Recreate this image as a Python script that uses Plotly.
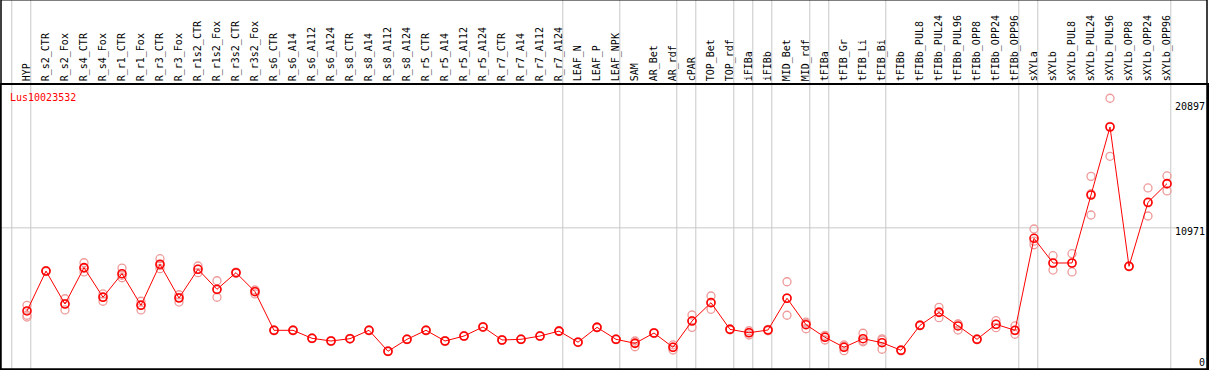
import plotly.graph_objects as go

categories = ["HYP", "R_s2_CTR", "R_s2_Fox", "R_s4_CTR", "R_s4_Fox", "R_r1_CTR", "R_r1_Fox",
              "R_r3_CTR", "R_r3_Fox", "R_r1s2_CTR", "R_r1s2_Fox", "R_r3s2_CTR", "R_r3s2_Fox",
              "R_s6_CTR", "R_s6_A14", "R_s6_A112", "R_s6_A124", "R_s8_CTR", "R_s8_A14", "R_s8_A112",
              "R_s8_A124", "R_r5_CTR", "R_r5_A14", "R_r5_A112", "R_r5_A124", "R_r7_CTR", "R_r7_A14",
              "R_r7_A112", "R_r7_A124", "LEAF_N", "LEAF_P", "LEAF_NPK", "SAM", "AR_Bet", "AR_rdf",
              "cPAR", "TOP_Bet", "TOP_rdf", "iFIBa", "iFIBb", "MID_Bet", "MID_rdf", "tFIBa",
              "tFIB_Gr", "tFIB_Li", "tFIB_Bi", "tFIBb", "tFIBb_PUL8", "tFIBb_PUL24", "tFIBb_PUL96",
              "tFIBb_OPP8", "tFIBb_OPP24", "tFIBb_OPP96", "sXYLa", "sXYLb", "sXYLb_PUL8",
              "sXYLb_PUL24", "sXYLb_PUL96", "sXYLb_OPP8", "sXYLb_OPP24", "sXYLb_OPP96"]

mean_values = [4370, 7540, 4920, 7810, 5460, 7330, 4820, 8080, 5400, 7680, 6090, 7410, 5900,
               2835, 2835, 2200, 1985, 2170, 2835, 1170, 2120, 2835, 1985, 2380, 3100,
               2065, 2120, 2380, 2770, 1890, 3070, 2120, 1800, 2620, 1485, 3570, 5030,
               2910, 2640, 2860, 5380, 3280, 2280, 1485, 2170, 1850, 1250, 3230, 4260,
               3180, 2120, 3310, 2835, 10140, 8180, 8180, 13580, 18980, 7920, 13000, 14480]

rep1 = [4820, 7500, 5340, 8200, 5720, 7780, 5140, 8520, 5660, 7940, 6770, 7350, 6035,
        2800, 2800, 2170, 1950, 2140, 2800, 1140, 2090, 2800, 1950, 2350, 3070,
        2030, 2090, 2350, 2740, 1860, 3040, 2090, 1985, 2590, 1670, 4050, 5560,
        2880, 2800, 2800, 6690, 3390, 2440, 1670, 2600, 2065, 1200, 3200, 4660,
        3335, 2080, 3600, 3180, 10880, 8760, 8920, 15060, 21260, 7880, 14140, 15090]
rep2 = [4030, 7560, 4450, 7470, 5140, 7010, 4450, 7730, 5080, 7410, 5460, 7420, 5720,
        2835, 2835, 2200, 1985, 2170, 2835, 1170, 2120, 2835, 1985, 2380, 3100,
        2065, 2120, 2380, 2770, 1890, 3070, 2120, 1530, 2620, 1270, 3070, 4500,
        2930, 2460, 2870, 4030, 2960, 2065, 1215, 1985, 1330, 1250, 3230, 3840,
        2860, 2120, 3040, 2520, 9630, 7620, 7470, 11990, 16650, 7920, 11910, 13900]
rep3 = [3890, 7580, 4950, 7750, 5500, 7200, 4870, 7980, 5450, 7690, 6050, 7460, 5950,
        2870, 2870, 2230, 2020, 2200, 2870, 1200, 2150, 2870, 2020, 2410, 3130,
        2100, 2150, 2410, 2800, 1920, 3100, 2150, 1850, 2650, 1500, 3600, 5020,
        2940, 2660, 2900, 5400, 3480, 2330, 1570, 1920, 2160, 1290, 3270, 4300,
        3330, 2160, 3300, 2810, 9910, 8160, 8150, 13680, 19030, 7950, 12950, 14450]

axis_labels = [20897, 10971, 0]
separator_after = [-1, 0, 28, 31, 34, 35, 37, 38, 39, 41, 42, 45, 52, 53, 60]
title_text = "Lus10023532"

idx = list(range(len(categories)))
FONT = "DejaVu Sans Mono"
GRID = "#c8c8c8"

fig = go.Figure()
for reps in (rep1, rep2, rep3):
    fig.add_trace(go.Scatter(
        x=idx, y=reps, mode="markers",
        marker=dict(symbol="circle-open", size=8, color="#ee9a9a", line=dict(width=1.3)),
        hoverinfo="skip", showlegend=False))
fig.add_trace(go.Scatter(
    x=idx, y=mean_values, mode="lines+markers",
    line=dict(color="#ff0000", width=1),
    marker=dict(symbol="circle-open", size=8, color="#ff0000", line=dict(width=1.6)),
    showlegend=False))

shapes = []
for s in separator_after:
    shapes.append(dict(type="line", xref="x", yref="paper", x0=s + 0.2, x1=s + 0.2,
                       y0=-0.01, y1=1.32, line=dict(color=GRID, width=1), layer="below"))
shapes.append(dict(type="line", xref="paper", yref="y", x0=0, x1=0.976,
                   y0=axis_labels[1], y1=axis_labels[1], line=dict(color=GRID, width=1),
                   layer="below"))
shapes.append(dict(type="rect", xref="paper", yref="paper", x0=0, x1=1, y0=0, y1=1.3,
                   line=dict(color="black", width=1.5)))

annotations = []
shifts = [-4, -4, 4]
for v, sh in zip(axis_labels, shifts):
    annotations.append(dict(x=1, xref="paper", y=v, yref="y", text=str(v), showarrow=False,
                            xanchor="right", yanchor="middle", yshift=sh,
                            font=dict(family=FONT, size=10, color="black")))
annotations.append(dict(x=0, xref="paper", y=1, yref="paper", text=title_text, showarrow=False,
                        xanchor="left", yanchor="top", xshift=7, yshift=-5,
                        font=dict(family=FONT, size=10, color="#ff0000")))

fig.update_layout(
    width=1209, height=370,
    margin=dict(l=1, r=2, t=85, b=1, autoexpand=False),
    paper_bgcolor="white", plot_bgcolor="white",
    shapes=shapes, annotations=annotations,
    xaxis=dict(range=[-1.368, 62.105], side="top", tickmode="array", tickvals=idx,
               ticktext=categories, tickangle=-90, ticks="", showgrid=False, zeroline=False,
               showline=True, linecolor="black", linewidth=1.5, mirror=True,
               tickfont=dict(family=FONT, size=10, color="black"), automargin=False),
    yaxis=dict(range=[-238, 22314], showgrid=False, zeroline=False, showticklabels=False,
               ticks="", showline=True, linecolor="black", linewidth=1.5, mirror=True,
               automargin=False),
)

fig.write_html("out.html", config={"displayModeBar": False},
               post_script="document.body.style.margin='0';document.body.style.overflow='hidden';")
